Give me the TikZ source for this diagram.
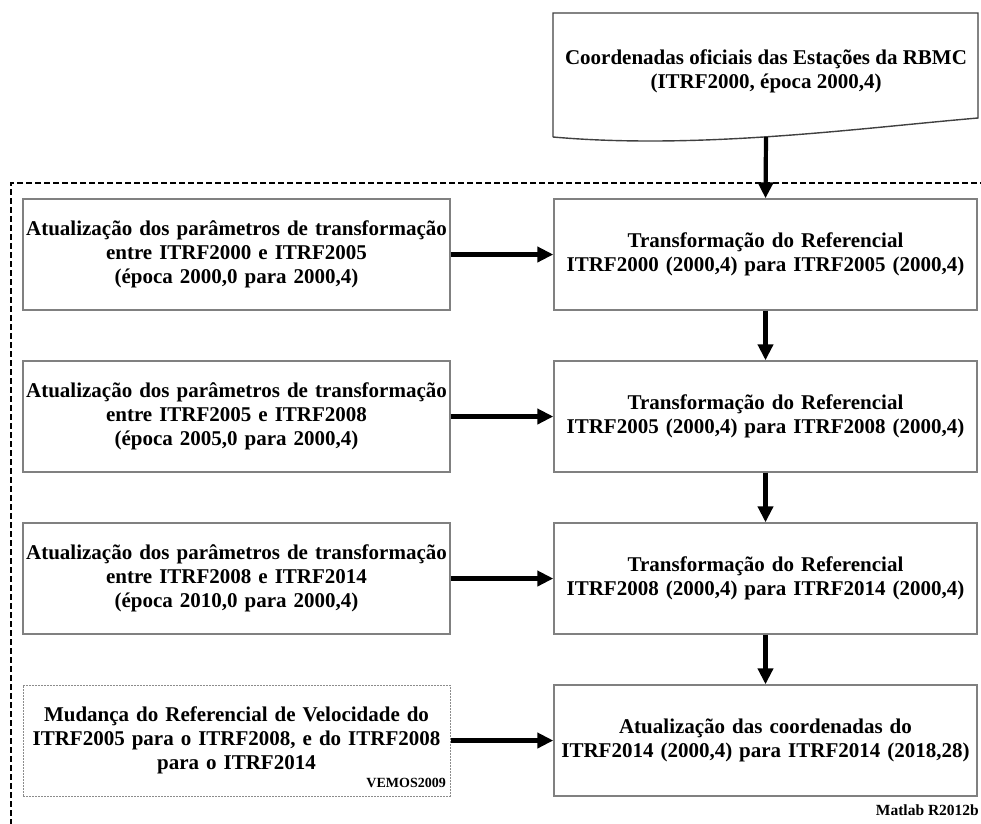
\documentclass[tikz,border=0pt]{standalone}
\usepackage{fontspec}
\setmainfont{Liberation Serif}
\usetikzlibrary{arrows.meta}

\begin{document}
\begin{tikzpicture}[x=1pt, y=-1pt,
  every node/.style={font=\fontsize{21}{24}\selectfont\bfseries, align=center},
  procbox/.style={draw=black!50, line width=1.4pt, minimum height=111pt, inner sep=0pt},
  leftbox/.style={procbox, minimum width=427pt, text width=421pt},
  rightbox/.style={procbox, minimum width=423pt, text width=417pt},
  flow/.style={line width=4.2pt, -{Triangle[length=16pt,width=15pt]}},
  tag/.style={font=\fontsize{14}{16}\selectfont\bfseries, inner sep=0pt}]
\useasboundingbox (0,0) rectangle (981,823);
% Official coordinates (document shape)
\draw[draw=black!75, line width=1.4pt] (553,137) -- (553,13) -- (978,13) -- (978,118)
  .. controls (860,128) and (700,150) .. (553,137);
\node (doc) at (766,71) {Coordenadas oficiais das Estações da RBMC\\(ITRF2000, época 2000,4)};
\coordinate (docbot) at (766,137);
% Processing frame
\draw[line width=1.8pt, dash pattern=on 6pt off 3pt] (995,183) -- (11,183) -- (11,840);
% Parameter updates
\node[leftbox] (l1) at (236.5,254.5) {Atualização dos parâmetros de transformação\\entre ITRF2000 e ITRF2005\\(época 2000,0 para 2000,4)};
\node[leftbox] (l2) at (236.5,416.5) {Atualização dos parâmetros de transformação\\entre ITRF2005 e ITRF2008\\(época 2005,0 para 2000,4)};
\node[leftbox] (l3) at (236.5,578.5) {Atualização dos parâmetros de transformação\\entre ITRF2008 e ITRF2014\\(época 2010,0 para 2000,4)};
\node[leftbox, draw=black!45, line width=1pt, dash pattern=on 2pt off 1pt] (l4) at (236.5,740.5) {Mudança do Referencial de Velocidade do\\ITRF2005 para o ITRF2008, e do ITRF2008\\para o ITRF2014};
\node[tag, anchor=base east] (vemos) at (446,787) {VEMOS2009};
% Transformations
\node[rightbox] (r1) at (765.5,254.5) {Transformação do Referencial\\ITRF2000 (2000,4) para ITRF2005 (2000,4)};
\node[rightbox] (r2) at (765.5,416.5) {Transformação do Referencial\\ITRF2005 (2000,4) para ITRF2008 (2000,4)};
\node[rightbox] (r3) at (765.5,578.5) {Transformação do Referencial\\ITRF2008 (2000,4) para ITRF2014 (2000,4)};
\node[rightbox] (r4) at (765.5,740.5) {Atualização das coordenadas do\\ITRF2014 (2000,4) para ITRF2014 (2018,28)};
\node[tag, anchor=base east, font=\fontsize{15.5}{17}\selectfont\bfseries] (matlab) at (979,815) {Matlab R2012b};
% Arrows
\draw[flow] (docbot) -- (r1.north);
\draw[flow] (r1) -- (r2);
\draw[flow] (r2) -- (r3);
\draw[flow] (r3) -- (r4);
\draw[flow] (l1) -- (r1);
\draw[flow] (l2) -- (r2);
\draw[flow] (l3) -- (r3);
\draw[flow] (l4) -- (r4);
\end{tikzpicture}
\end{document}
